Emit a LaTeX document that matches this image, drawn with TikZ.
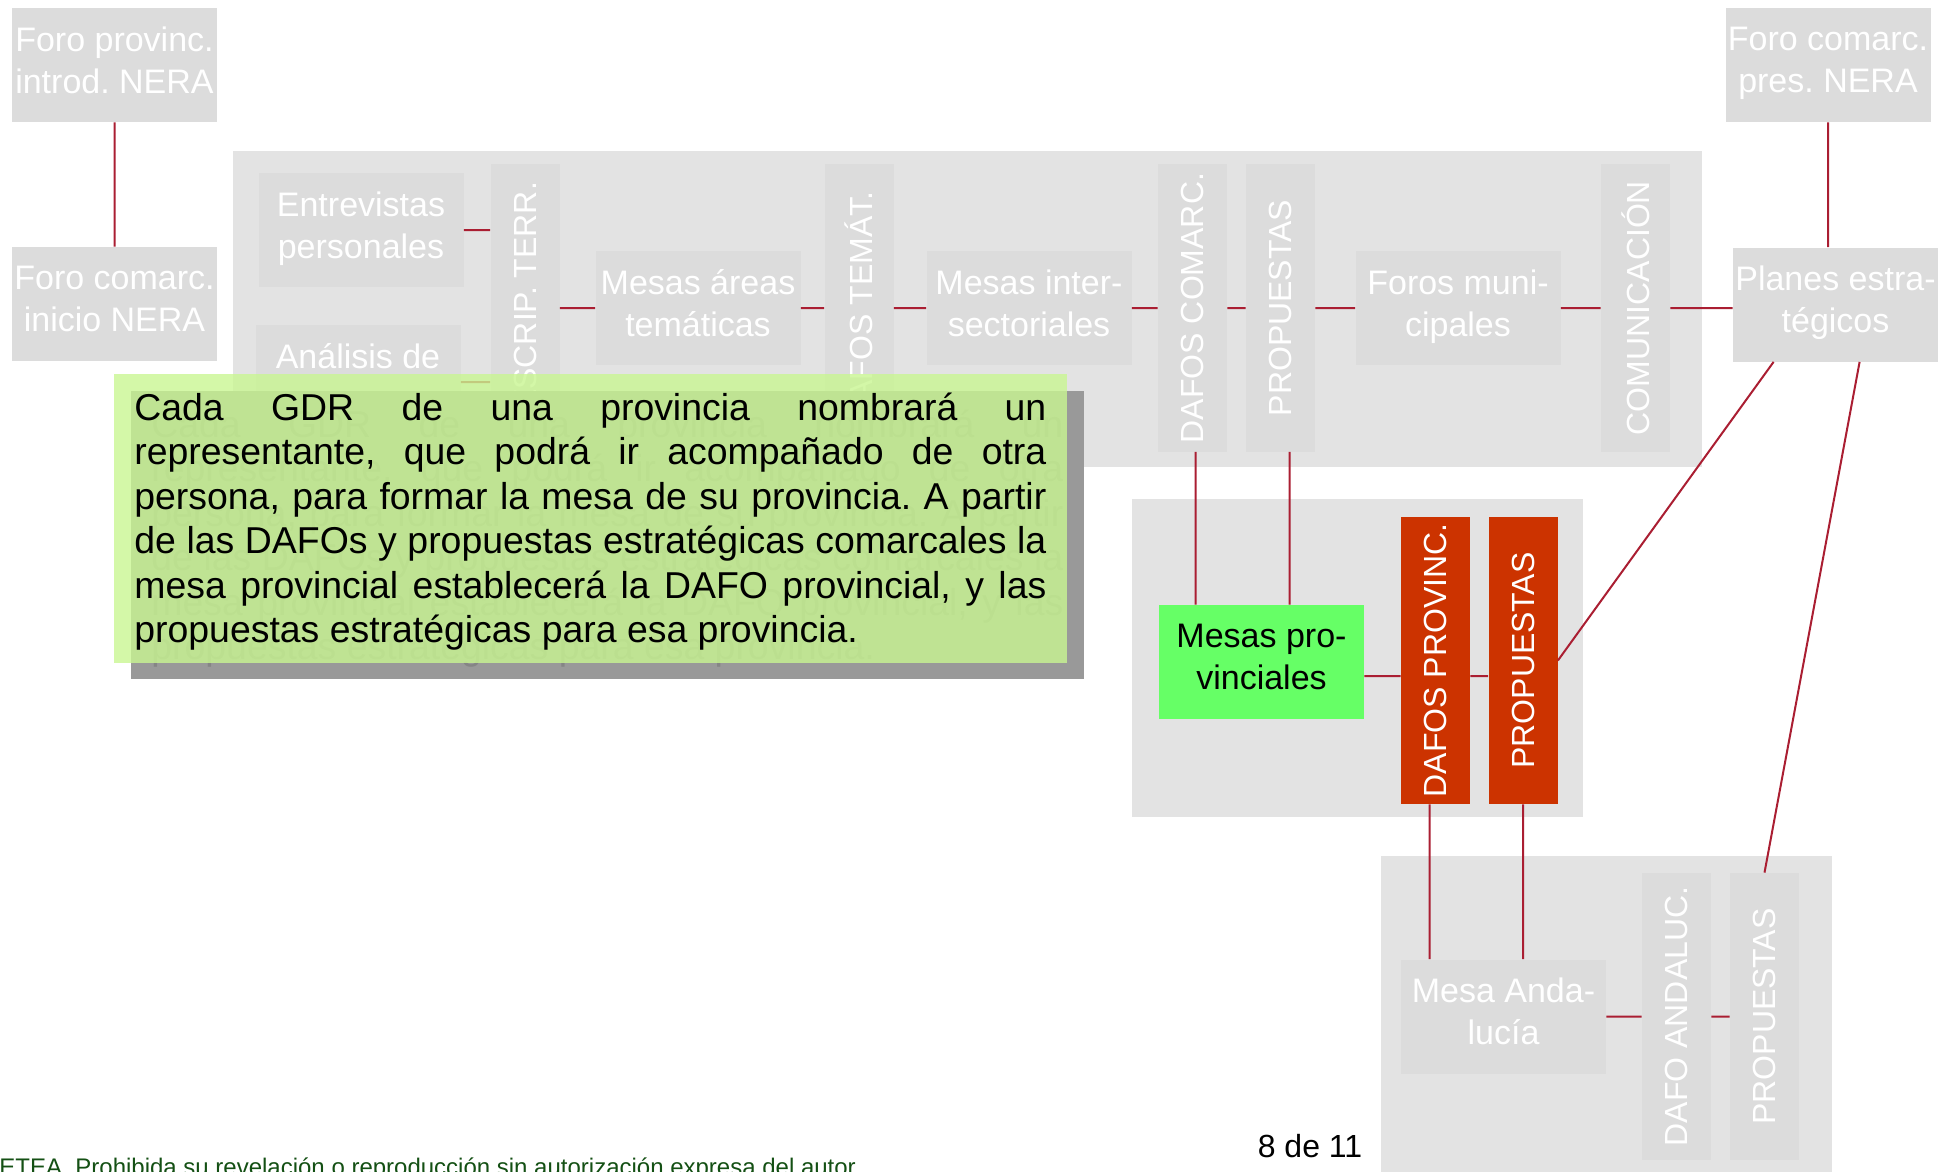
\documentclass[tikz,border=0pt]{standalone}
\usepackage{fontspec}
\setmainfont{Liberation Sans}
\usepackage{graphicx}
\frenchspacing

\definecolor{fondo}{RGB}{227,227,227}
\definecolor{gris}{RGB}{220,220,220}
\definecolor{linea}{RGB}{170,30,50}
\definecolor{rojo}{RGB}{204,51,0}
\definecolor{verde}{RGB}{102,255,102}
\definecolor{nota}{RGB}{201,246,146}
\definecolor{pie}{RGB}{20,80,20}

\newcommand\textonota{Cada GDR de una provincia nombrará un\linebreak
representante, que podrá ir acompañado de otra\linebreak
persona, para formar la mesa de su provincia. A partir\linebreak
de las DAFOs y propuestas estratégicas comarcales la\linebreak
mesa provincial establecerá la DAFO provincial, y las\linebreak
propuestas estratégicas para esa provincia.}

\begin{document}
\begin{tikzpicture}[x=0.5pt,y=-0.5pt,
	caja/.style={fill=gris,text=white,inner sep=0pt,minimum width=102.5pt,minimum height=57pt,align=center,font=\fontsize{17pt}{21pt}\selectfont,
		execute at begin node={\rule{0pt}{17pt}},execute at end node={\rule[-5pt]{0pt}{0pt}}},
	barra/.style={fill=gris,text=white,inner sep=0pt,minimum width=34.5pt,minimum height=143.5pt,font=\fontsize{16pt}{19pt}\selectfont},
	roja/.style={barra,fill=rojo},
	con/.style={draw=linea,line width=1pt},
	notatxt/.style={anchor=base west,inner sep=0pt,text width=456pt,align=justify,font=\fontsize{18.7pt}{22.3pt}\selectfont}]
		\useasboundingbox (0,0) rectangle (1940,1172);
		% fondos
		\fill[fondo] (233,151) rectangle (1702,467);
		\fill[fondo] (1132,499) rectangle (1583,817);
		\fill[fondo] (1381,856) rectangle (1832,1172);
		% foros
		\node[caja](fpi) at (114.5,65) {Foro provinc.\\introd. NERA};
		\node[caja](fci) at (114.5,304) {Foro comarc.\\inicio NERA};
		\node[caja](fcp) at (1828,65) {Foro comarc.\\pres. NERA};
		\node[caja](pl) at (1835.5,304.5) {Planes estra-\\tégicos};
		% fase comarcal
		\node[caja](ep) at (361,230) {Entrevistas\\personales};
		\node[caja](ad) at (358,382) {Análisis de\\\mbox{}};
		\node[barra](dt) at (525,308) {\rotatebox{90}{DESCRIP. TERR.}};
		\node[caja](ma) at (698,308) {Mesas áreas\\temáticas};
		\node[barra](dte) at (859,308) {\rotatebox{90}{DAFOS TEMÁT.}};
		\node[caja](mi) at (1029,308) {Mesas inter-\\sectoriales};
		\node[barra](dc) at (1192.5,308) {\rotatebox{90}{DAFOS COMARC.}};
		\node[barra](pc) at (1280.5,308) {\rotatebox{90}{PROPUESTAS}};
		\node[caja](fm) at (1458,308) {Foros muni-\\cipales};
		\node[barra](cm) at (1635.5,308) {\rotatebox{90}{COMUNICACIÓN}};
		% fase provincial
		\node[caja,fill=verde,text=black](mp) at (1261.5,662) {Mesas pro-\\vinciales};
		\node[roja](dp) at (1435.5,660.5) {\rotatebox{90}{DAFOS PROVINC.}};
		\node[roja](pp) at (1523,660.5) {\rotatebox{90}{PROPUESTAS}};
		% fase andaluza
		\node[caja](mand) at (1503.5,1016.5) {Mesa Anda-\\lucía};
		\node[barra](da) at (1676.5,1016.5) {\rotatebox{90}{DAFO ANDALUC.}};
		\node[barra](pa) at (1764.5,1016.5) {\rotatebox{90}{PROPUESTAS}};
		\coordinate (q) at (0,676);
		\draw[con] (fpi)--(fci) (fcp)--(fcp.south |- pl.north)
			(ep.east)--(ep.east -| dt.west) (ad.east)--(ad.east -| dt.west)
			(dt)--(ma) (ma)--(dte) (dte)--(mi) (mi)--(dc) (dc)--(pc) (pc)--(fm) (fm)--(cm) (cm.east)--(cm.east -| pl.west)
			([xshift=1.5pt]dc.south)--([xshift=1.5pt]dc.south |- mp.north) ([xshift=4.5pt]pc.south)--([xshift=4.5pt]pc.south |- mp.north)
			(mp.east |- q)--(dp.west |- q) (dp.east |- q)--(pp.west |- q)
			(pp.east)--([xshift=20.5pt]pl.south west) ([xshift=63.5pt]pl.south west)--(pa.north)
			([xshift=-3pt]dp.south)--([xshift=-3pt]dp.south |- mand.north) (pp.south)--(pp.south |- mand.north)
			(mand)--(da) (da)--(pa);
		% nota
		\fill[black!40] (131,391) rectangle (1084,679);
		\node[notatxt,text=black!48](sombra) at (151,437) {\textonota};
		\fill[nota,opacity=0.8] (114,374) rectangle (1067,663);
		\node[notatxt](txt) at (134,420) {\textonota};
		% pie
		\node[inner sep=0pt,font=\fontsize{16pt}{19pt}\selectfont](pag) at (1310,1146) {8 de 11};
		\node[anchor=base west,inner sep=0pt,text=pie,font=\fontsize{12pt}{14pt}\selectfont](aviso) at (-1,1175) {ETEA. Prohibida su revelación o reproducción sin autorización expresa del autor};
	\end{tikzpicture}
\end{document}
